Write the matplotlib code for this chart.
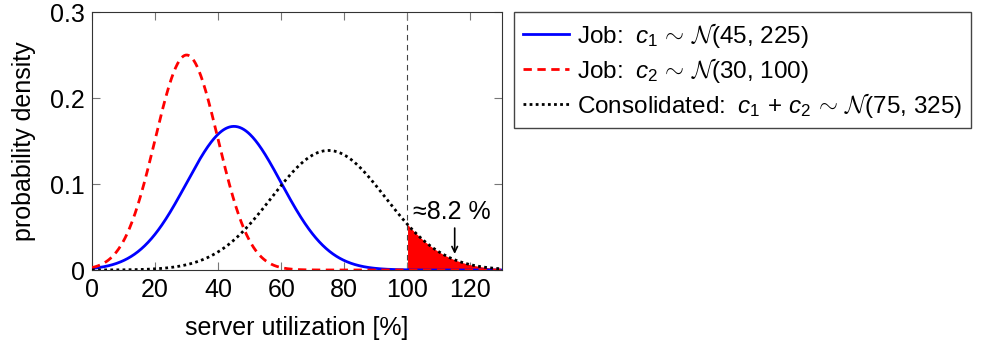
import numpy as np
import matplotlib
matplotlib.use('Agg')
import matplotlib.pyplot as plt

plt.rcParams['font.family'] = ['Liberation Sans', 'DejaVu Sans']
plt.rcParams['mathtext.fontset'] = 'custom'
plt.rcParams['mathtext.rm'] = 'Liberation Sans'
plt.rcParams['mathtext.it'] = 'Liberation Sans:italic'
plt.rcParams['mathtext.cal'] = 'cmsy10'

#distribution parameters (mean, variance) and peak heights
means = [45, 30, 75]
variances = [225, 100, 325]
peaks = [0.167, 0.25, 0.139]
labels = [r'Job: $\;c_1\,\sim\,\mathcal{N}$(45, 225)',
          r'Job: $\;c_2\,\sim\,\mathcal{N}$(30, 100)',
          r'Consolidated: $\;c_1\,+\,c_2\,\sim\,\mathcal{N}$(75, 325)']
colors = ['blue', 'red', 'black']
styles = ['-', (0, (3, 2)), (0, (1, 1.2))]

threshold = 100
overflow_label = '≈8.2 %'
xticks = [0, 20, 40, 60, 80, 100, 120]
yticks = [0, 0.1, 0.2, 0.3]

fs = 18
fig = plt.figure(figsize=(9.83, 3.5), dpi=100)
ax = fig.add_axes([92/983, 1-270/350, 410/983, 258/350])

x = np.linspace(0, 130, 600)
curves = []
for m, v, p, lab, c, ls in zip(means, variances, peaks, labels, colors, styles):
    y = p*np.exp(-(x-m)**2/(2*v))
    curves.append(y)
    ax.plot(x, y, color=c, ls=ls, lw=2, label=lab, zorder=3)

#shaded overflow area under the consolidated curve
mask = x >= threshold
ax.fill_between(x[mask], 0, curves[2][mask], color='red', lw=0, zorder=2)
ax.axvline(threshold, color='#444444', ls=(0, (5, 4)), lw=0.8, zorder=1)

ax.annotate('', xy=(115, 0.0155), xytext=(115, 0.052),
            arrowprops=dict(arrowstyle='->', color='black', lw=1.2))
ax.text(114, 0.068, overflow_label, ha='center', va='center', fontsize=fs)

ax.set_xlim(0, 130)
ax.set_ylim(0, 0.3)
ax.set_xticks(xticks)
ax.set_yticks(yticks)
ax.set_yticklabels(['0', '0.1', '0.2', '0.3'])
ax.tick_params(direction='in', length=6, color='#777777', labelsize=fs,
               top=True, right=True)
ax.tick_params(axis='x', pad=6)
ax.tick_params(axis='y', pad=5)
for s in ax.spines.values():
    s.set_color('#333333')
ax.set_xlabel('server utilization [%]', fontsize=fs, labelpad=10)
ax.set_ylabel('probability density', fontsize=fs, labelpad=10)

fig.legend(loc='upper left', bbox_to_anchor=(514/983, 1-12/350), fontsize=17.5,
           frameon=True, fancybox=False, edgecolor='#444444', framealpha=1,
           handlelength=1.9, handletextpad=0.35, borderpad=0.35, labelspacing=0.25,
           borderaxespad=0)

plt.savefig('out.png', dpi=100)
